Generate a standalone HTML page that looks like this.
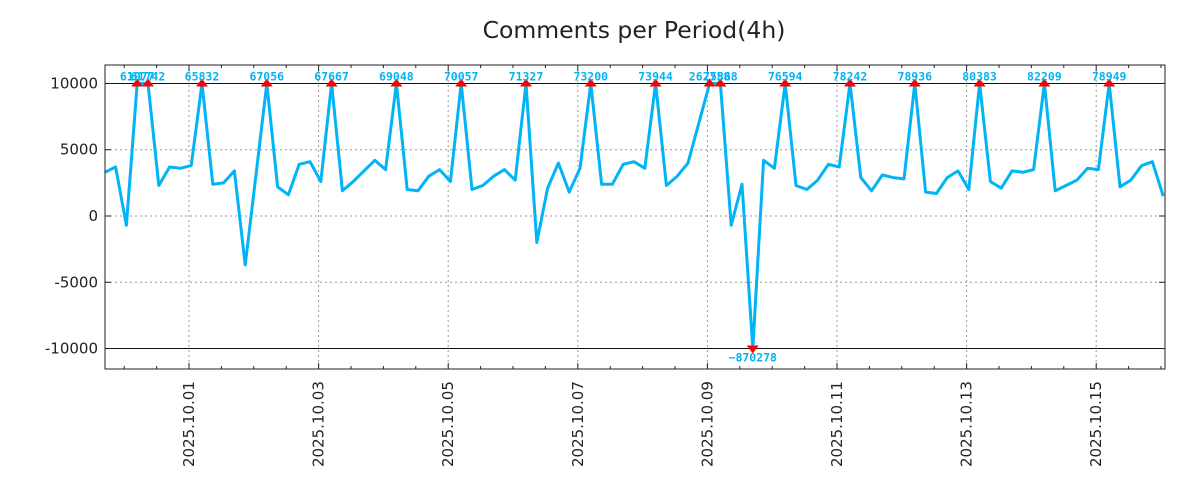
<!DOCTYPE html>
<html><head><meta charset="utf-8"><style>
body{margin:0;background:#fff;}
svg{display:block;font-family:"DejaVu Sans","Liberation Sans",sans-serif;}
</style></head><body>
<svg id="chart" width="1200" height="500">
<text x="634" y="38" text-anchor="middle" font-size="23.5" fill="#222">Comments per Period(4h)</text>
<g id="grid"></g><g id="series"></g><g id="axes"></g>
</svg>
<script>
const values = [3300,3700,-700,61077,61742,2300,3700,3600,3800,65832,2400,2500,3400,-3700,3100,67056,2200,1600,3900,4100,2600,67667,1900,2600,3400,4200,3500,69048,2000,1900,3000,3500,2600,70057,2000,2300,3000,3500,2700,71327,-2000,2100,4000,1800,3600,73200,2400,2400,3900,4100,3600,73944,2300,3000,4000,7000,262758,75868,-700,2400,-870278,4200,3600,76594,2300,2000,2700,3900,3700,78242,2900,1900,3100,2900,2800,78936,1800,1700,2900,3400,2000,80383,2600,2100,3400,3300,3500,82209,1900,2300,2700,3600,3500,78949,2200,2700,3800,4100,1500];
const startHour = -31.2; // hours relative to 2025-10-01 00:00
const stepHours = 4;
const yTicks = [10000,5000,0,-5000,-10000];
const yTickLabels = ["10000","5000","0","-5000","-10000"];
const xTickDays = [0,2,4,6,8,10,12,14];
const xTickLabels = ["2025.10.01","2025.10.03","2025.10.05","2025.10.07","2025.10.09","2025.10.11","2025.10.13","2025.10.15"];
const clipLimit = 10000;

const L=105,R=1165,T=65,B=369;
const xs=h=>189+h*2.7;
const ys=v=>216-v*0.013255;
const NS="http://www.w3.org/2000/svg";
function mk(tag,attrs,parent){const e=document.createElementNS(NS,tag);for(const k in attrs)e.setAttribute(k,attrs[k]);parent.appendChild(e);return e;}
const grid=document.getElementById('grid'),series=document.getElementById('series'),axes=document.getElementById('axes');

yTicks.forEach((v,i)=>{
  if(Math.abs(v)!==clipLimit){const g=mk('line',{x1:L,x2:R,y1:ys(v),y2:ys(v),stroke:'#999','stroke-dasharray':'2,3','stroke-width':1},grid);
  
  }
  const t=mk('text',{x:98,y:ys(v)+5,'text-anchor':'end','font-size':15,fill:'#222'},axes);t.textContent=yTickLabels[i];
  
  
  mk('line',{x1:L,x2:L+6,y1:ys(v),y2:ys(v),stroke:'#222'},axes);
  mk('line',{x1:R,x2:R-6,y1:ys(v),y2:ys(v),stroke:'#222'},axes);
});
xTickDays.forEach((d,i)=>{
  const x=xs(d*24);
  const g=mk('line',{x1:x,x2:x,y1:T,y2:B,stroke:'#999','stroke-dasharray':'2,3','stroke-width':1},grid);
  
  
  const t=mk('text',{transform:`translate(${x+5},467) rotate(-90)`,'font-size':15,fill:'#222'},axes);t.textContent=xTickLabels[i];
  
  
});
for(let h=-24;h<=372;h+=12){const x=xs(h);if(x<L||x>R)continue;const len=(h%48===0)?6:3;
  mk('line',{x1:x,x2:x,y1:B,y2:B-len,stroke:'#222'},axes);mk('line',{x1:x,x2:x,y1:T,y2:T+len,stroke:'#222'},axes);}
[clipLimit,-clipLimit].forEach(v=>{const l=mk('line',{x1:L,x2:R,y1:ys(v),y2:ys(v),stroke:'#111','stroke-width':1},grid);
  
  });

const cl=v=>Math.max(-clipLimit,Math.min(clipLimit,v));
const pts=values.map((v,i)=>xs(startHour+i*stepHours).toFixed(1)+','+ys(cl(v)).toFixed(1)).join(' ');
const pl=mk('polyline',{points:pts,fill:'none',stroke:'#00b4f6','stroke-width':3,'stroke-linejoin':'round'},series);


values.forEach((v,i)=>{
  if(Math.abs(v)<=clipLimit)return;
  const x=xs(startHour+i*stepHours),y=ys(cl(v));
  const up=v>0;
  const m=mk('path',{d:up?`M${x-6},${y+3}L${x+6},${y+3}L${x},${y-5}Z`:`M${x-6},${y-3}L${x+6},${y-3}L${x},${y+5}Z`,fill:'#f00'},series);
  
  
  const t=mk('text',{x:x,y:up?y-3:y+13,'text-anchor':'middle','font-size':11.5,'font-weight':'bold','font-family':'"DejaVu Sans Mono","Liberation Mono",monospace',fill:'#00b4f6'},series);
  t.textContent=String(v).replace('-','−');
  
  
});
const fr=mk('rect',{x:L,y:T,width:R-L,height:B-T,fill:'none',stroke:'#222','stroke-width':1},axes);


</script>
</body></html>
